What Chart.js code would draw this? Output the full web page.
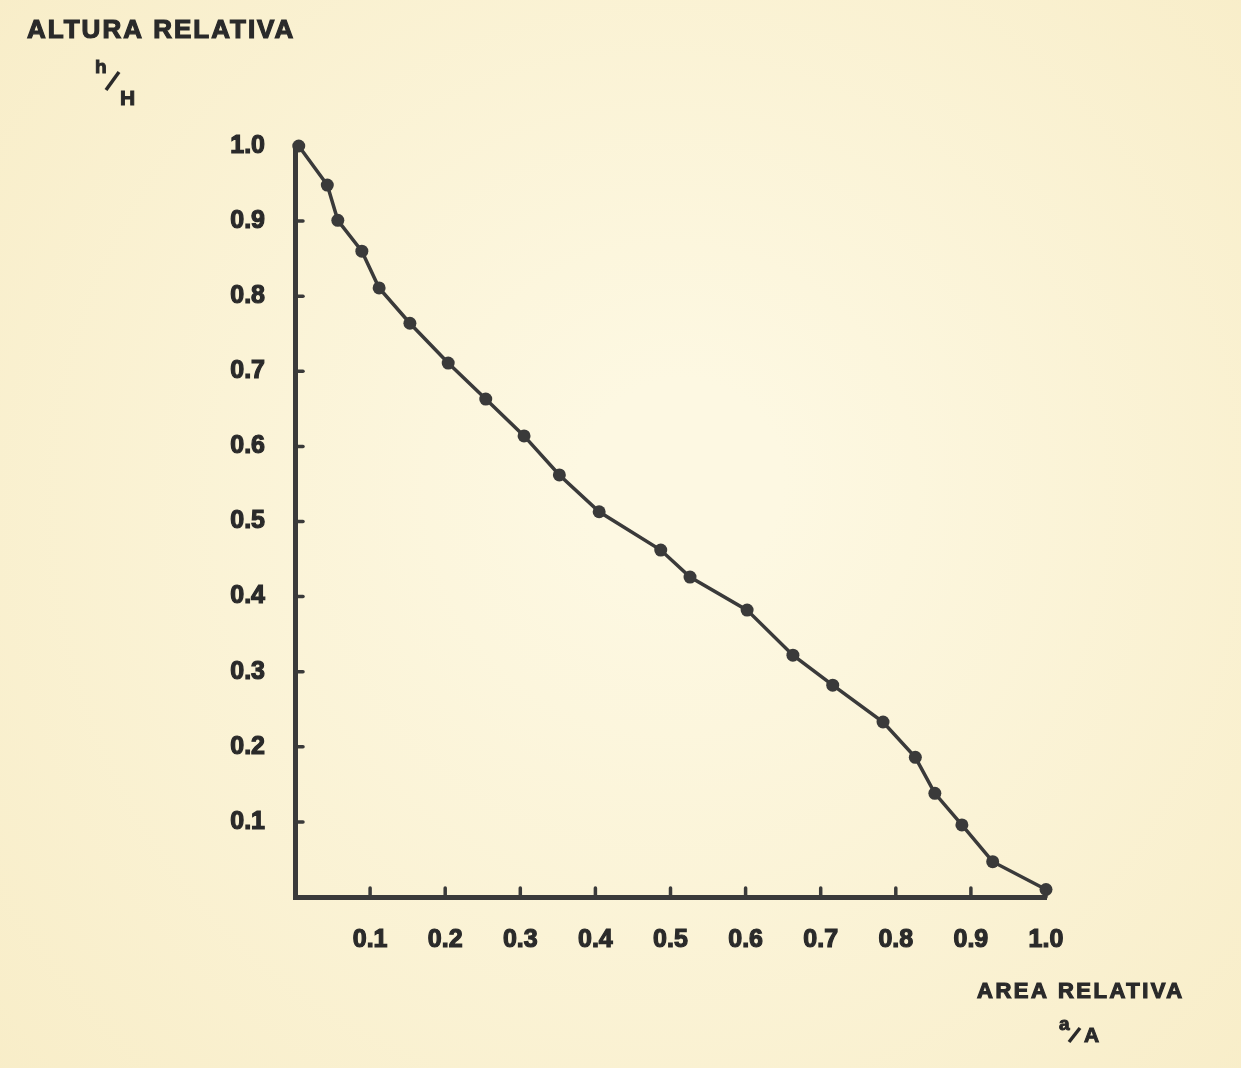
<!DOCTYPE html>
<html>
<head>
<meta charset="utf-8">
<title>Altura relativa vs área relativa</title>
<script src="https://cdn.jsdelivr.net/npm/chart.js@4.4.1/dist/chart.umd.min.js"></script>
<style>
  html, body { margin: 0; padding: 0; background: #fbf5da; }
  #wrap { position: relative; width: 1241px; height: 1068px; }
  canvas { display: block; }
</style>
</head>
<body>
<div id="wrap"><canvas id="c" width="1241" height="1068"></canvas></div>
<script>
// Relative area a/A (x) and relative height h/H (y) of the hypsometric curve
const areaRelativa = [0.005, 0.043, 0.057, 0.089, 0.112, 0.153, 0.204, 0.254, 0.305, 0.352, 0.405,
                      0.487, 0.526, 0.602, 0.663, 0.716, 0.783, 0.826, 0.852, 0.888, 0.929, 1.0];
const alturaRelativa = [1.0, 0.948, 0.901, 0.860, 0.811, 0.764, 0.711, 0.663, 0.614, 0.562, 0.513,
                        0.462, 0.426, 0.382, 0.322, 0.282, 0.233, 0.186, 0.138, 0.096, 0.047, 0.01];
// Tick values marked along each axis
const xTickValues = [0.1, 0.2, 0.3, 0.4, 0.5, 0.6, 0.7, 0.8, 0.9, 1.0];
const yTickValues = [0.1, 0.2, 0.3, 0.4, 0.5, 0.6, 0.7, 0.8, 0.9, 1.0];

const INK = '#3a3a3a';
const TEXT = '#2a2a2a';
const FONT = '"Liberation Sans", Arial, sans-serif';

const points = areaRelativa.map((x, i) => ({ x, y: alturaRelativa[i] }));

// Paper background
const paper = {
  id: 'paper',
  beforeDraw(chart) {
    const { ctx, width, height } = chart;
    ctx.save();
    const g = ctx.createRadialGradient(width * 0.55, height * 0.45, 100, width * 0.5, height * 0.5, width * 0.8);
    g.addColorStop(0, '#fdf8e2');
    g.addColorStop(1, '#f7ebc3');
    ctx.fillStyle = g;
    ctx.fillRect(0, 0, width, height);
    ctx.restore();
  }
};

// Short inward tick marks on both axes
const innerTicks = {
  id: 'innerTicks',
  afterDraw(chart) {
    const { ctx, scales: { x, y } } = chart;
    ctx.save();
    ctx.strokeStyle = INK;
    ctx.lineWidth = 3.5;
    ctx.lineCap = 'round';
    xTickValues.forEach(v => {
      const px = x.getPixelForValue(v);
      ctx.beginPath();
      ctx.moveTo(px, y.bottom);
      ctx.lineTo(px, y.bottom - 9);
      ctx.stroke();
    });
    yTickValues.slice(0, -1).forEach(v => {
      const py = y.getPixelForValue(v);
      ctx.beginPath();
      ctx.moveTo(x.left, py);
      ctx.lineTo(x.left + 8, py);
      ctx.stroke();
    });
    ctx.restore();
  }
};

// Heavy lettering: fill plus a thin stroke of the same ink
function heavyText(ctx, text, x, y) {
  ctx.fillText(text, x, y);
  ctx.strokeText(text, x, y);
}

// Axis titles written as fractions h/H and a/A
function drawFraction(ctx, num, den, x, y, f) {
  ctx.font = 'bold 19px ' + FONT;
  ctx.textBaseline = 'alphabetic';
  ctx.textAlign = 'left';
  ctx.lineWidth = 1;
  heavyText(ctx, num, x, y);
  ctx.lineWidth = 3.5;
  ctx.beginPath();
  ctx.moveTo(x + f.s0[0], y + f.s0[1]);
  ctx.lineTo(x + f.s1[0], y + f.s1[1]);
  ctx.stroke();
  ctx.font = 'bold 21px ' + FONT;
  ctx.lineWidth = 1;
  heavyText(ctx, den, x + f.dx, y + f.dy);
}

const axisTitles = {
  id: 'axisTitles',
  afterDraw(chart) {
    const { ctx } = chart;
    ctx.save();
    ctx.fillStyle = TEXT;
    ctx.strokeStyle = TEXT;
    ctx.lineWidth = 1.2;
    ctx.textAlign = 'left';
    ctx.textBaseline = 'alphabetic';
    ctx.font = 'bold 26px ' + FONT;
    ctx.letterSpacing = '2px';
    heavyText(ctx, 'ALTURA RELATIVA', 27, 38);
    ctx.font = 'bold 22px ' + FONT;
    ctx.letterSpacing = '2.5px';
    heavyText(ctx, 'AREA RELATIVA', 977, 998);
    ctx.letterSpacing = '0px';
    drawFraction(ctx, 'h', 'H', 95, 73, { s0: [11, 17], s1: [24, -1], dx: 25, dy: 32 });
    drawFraction(ctx, 'a', 'A', 1059, 1030, { s0: [10, 12], s1: [21, -2], dx: 25, dy: 12 });
    ctx.restore();
  }
};

new Chart(document.getElementById('c'), {
  type: 'scatter',
  data: {
    datasets: [{
      data: points,
      showLine: true,
      borderColor: INK,
      backgroundColor: INK,
      borderWidth: 3.5,
      pointRadius: 6.5,
      pointHoverRadius: 6.5,
      pointBorderWidth: 0,
      clip: false
    }]
  },
  options: {
    responsive: false,
    animation: false,
    events: [],
    layout: { padding: { left: 0, top: 146, right: 195, bottom: 0 } },
    plugins: { legend: { display: false }, tooltip: { enabled: false } },
    scales: {
      x: {
        type: 'linear',
        min: 0,
        max: 1,
        grid: { display: false, drawTicks: false },
        border: { display: true, color: INK, width: 5 },
        afterFit(scale) { scale.height = 171; },
        afterBuildTicks(scale) { scale.ticks = xTickValues.map(v => ({ value: v })); },
        ticks: {
          padding: 28,
          color: TEXT,
          textStrokeColor: TEXT,
          textStrokeWidth: 1.2,
          font: { family: FONT, size: 25, weight: 'bold' },
          maxRotation: 0,
          callback: v => v.toFixed(1)
        }
      },
      y: {
        type: 'linear',
        min: 0,
        max: 1,
        grid: { display: false, drawTicks: false },
        border: { display: true, color: INK, width: 5 },
        afterFit(scale) { scale.width = 295; },
        afterBuildTicks(scale) { scale.ticks = yTickValues.map(v => ({ value: v })); },
        ticks: {
          padding: 30,
          color: TEXT,
          textStrokeColor: TEXT,
          textStrokeWidth: 1.2,
          font: { family: FONT, size: 25, weight: 'bold' },
          callback: v => v.toFixed(1)
        }
      }
    }
  },
  plugins: [paper, innerTicks, axisTitles]
});
</script>
</body>
</html>
